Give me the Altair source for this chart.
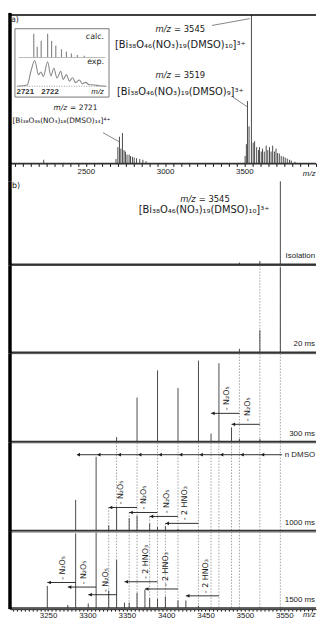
import altair as alt
import pandas as pd

FONT = "DejaVu Sans"
TFONT = "Liberation Sans"
INK = "#1a1a1a"
PEAK = "#4a4a4a"
GRAY = "#8c8c8c"
W = 309

# ---------------- panel a : survey spectrum ----------------
A_MZ = [2234, 2690, 2702, 2712, 2721, 2731, 2741, 2750, 2760, 2773, 2782, 2794, 2805, 2820, 2840, 2860, 2880,
        3505, 3513, 3520, 3530, 3545, 3556, 3565, 3578, 3590, 3596, 3607, 3615, 3626, 3638, 3648, 3659, 3669,
        3679, 3690, 3700, 3710, 3721, 3733, 3746, 3758, 3771, 3785, 3796, 3820]
A_INT = [2.5, 3, 11, 18, 10, 20.5, 9, 8, 6, 6, 5, 4.5, 4, 3.5, 3, 2.5, 1.5,
         5, 13, 42, 25, 100, 14, 15, 11, 9, 11, 8, 10, 8, 12, 9, 11, 8,
         12, 8, 10, 7, 6.7, 5, 4.7, 4, 3.3, 2.5, 2, 1.2]
A_TICKS = list(range(2050, 3951, 50))
A_DOMAIN = [2021.25, 3952.5]
A_YDOMAIN = [-12, 101.33]

A_ION_VAL = ["= 3545", "= 3519", "= 2721"]
A_ION_M = [3037.5, 3037.5, 2382.0]
A_ION_I = [90.7, 59.3, 37.3]
A_ION_SIZE = [8.5, 8.5, 7.5]
A_FORM = ["[Bi₃₈O₄₆(NO₃)₁₉(DMSO)₁₀]³⁺", "[Bi₃₈O₄₆(NO₃)₁₉(DMSO)₉]³⁺", "[Bi₃₈O₄₆(NO₃)₁₈(DMSO)₁₄]⁴⁺"]
A_FORM_M = [3096, 3096, 2036.9]
A_FORM_I = [80, 48, 28.7]
A_FORM_ALIGN = ["center", "center", "left"]
A_FORM_SIZE = [10, 10, 7.5]
A_LEAD_M1 = [3296, 3427.5, 2608.75]
A_LEAD_I1 = [92.9, 44.7, 20.7]
A_LEAD_M2 = [3534, 3521, 2708.75]
A_LEAD_I2 = [97.5, 38, 14.7]

CALC_MZ = [2721.36, 2721.5, 2721.66, 2721.92, 2722.08, 2722.25, 2722.48, 2722.68, 2722.88, 2723.12, 2723.4]
CALC_INT = [100, 45, 70, 100, 70, 50, 35, 25, 17, 11, 7]
EXP_MZ = [2720.7, 2721.1, 2721.25, 2721.4, 2721.55, 2721.65, 2721.75, 2721.92, 2722.05, 2722.17, 2722.3,
          2722.45, 2722.55, 2722.68, 2722.8, 2722.93, 2723.05, 2723.2, 2723.32, 2723.45, 2723.6, 2723.8,
          2724.0, 2724.3]
EXP_INT = [0, 5, 60, 100, 45, 55, 38, 95, 40, 70, 32, 58, 26, 45, 20, 33, 14, 24, 10, 15, 6, 5, 2, 0]
INSET_DOMAIN = [2720.6, 2724.4]

# ---------------- panel b : CID series ----------------
B_DOMAIN = [3201.6, 3590.3]
B_TICKS = list(range(3205, 3590, 5))
B_YDOMAIN = [-1.5, 100]
B_HEIGHTS = [85, 89, 90, 90, 78]

ISO_MZ = [3545, 3519, 3493]
ISO_INT = [100, 4, 2]
MS20_MZ = [3545, 3519, 3493]
MS20_INT = [98, 25.5, 4]
MS300_MZ = [3337, 3363, 3389, 3415, 3441, 3457, 3467, 3483, 3493, 3519]
MS300_INT = [5, 50, 81, 61, 92, 9, 89, 16, 3, 3]
MS1000_MZ = [3285, 3311, 3327, 3337, 3353, 3363, 3379, 3389, 3399, 3415]
MS1000_INT = [35, 84, 6, 26, 14, 17, 8, 4, 5, 2]
MS1500_MZ = [3249, 3275, 3285, 3301, 3311, 3327, 3337, 3347, 3353, 3363, 3373, 3379, 3389, 3399, 3415, 3425, 3441]
MS1500_INT = [29, 4, 98, 6, 99, 23, 63, 7, 7, 20, 24, 13, 12, 15, 10, 10, 3]

GUIDES_20 = [3519, 3545]
GUIDES_300 = [3493, 3519, 3545]
GUIDES_1000 = [3337, 3363, 3389, 3415, 3441, 3457, 3467, 3483, 3493, 3519, 3545]
GUIDES_1500 = [3327, 3353, 3379, 3399] + GUIDES_1000

TIME_LABELS = ["Isolation", "20 ms", "300 ms", "1000 ms", "1500 ms"]
TIME_I = [10, 9.5, 8.2, 8.2, 10.5]

BR_PANEL = ["300 ms", "300 ms", "1000 ms", "1000 ms", "1000 ms", "1000 ms",
            "1500 ms", "1500 ms", "1500 ms", "1500 ms", "1500 ms", "1500 ms"]
BR_FROM = [3493, 3519, 3363, 3389, 3415, 3441, 3285, 3311, 3337, 3389, 3415, 3467]
BR_TO = [3457, 3483, 3327, 3353, 3379, 3399, 3249, 3275, 3301, 3347, 3373, 3425]
BR_I = [32, 19.5, 26.3, 20.6, 16.1, 8.2, 33.5, 27.5, 17.5, 34.5, 25, 16]
BR_TEXT = ["- N₂O₅", "- N₂O₅", "- N₂O₅", "- N₂O₅", "- N₂O₅", "- 2 HNO₃",
           "- N₂O₅", "- N₂O₅", "- N₂O₅", "- 2 HNO₃", "- 2 HNO₃", "- 2 HNO₃"]
BR_TEXT_M = [3477, 3503.5, 3342.5, 3371.4, 3401.6, 3424.2, 3269.5, 3296, 3323.6, 3374, 3400, 3451]
GUIDE_FROM_ARROW = ["1000 ms"]

DMSO_SERIES = [3285, 3311, 3337, 3363, 3389, 3415, 3441, 3467, 3493, 3519]
DMSO_I = 86.4


def xq(field, scale, axis=None):
    return alt.X(field, type="quantitative", scale=scale, axis=axis)


def yq(field, scale):
    return alt.Y(field, type="quantitative", scale=scale, axis=None)


# ---------------- panel a ----------------
xa = alt.Scale(domain=A_DOMAIN, nice=False, zero=False)
ya = alt.Scale(domain=A_YDOMAIN, nice=False, zero=False)
axis_a = alt.Axis(values=A_TICKS, orient="bottom", offset=-18, title=None, grid=False,
                  labelExpr="indexof([2500,3000,3500], datum.value) >= 0 ? format(datum.value, 'd') : ''",
                  labelFont=TFONT, labelFontSize=8, labelColor=INK, labelPadding=1, labelFlush=False,
                  labelOverlap=False, tickSize=3, tickColor=INK, domainColor=INK, domainWidth=1)

dfa = pd.DataFrame({"m": A_MZ, "i": A_INT})
dfa["b"] = 0.0
peaks_a = alt.Chart(dfa).mark_rule(color=PEAK, strokeWidth=1).encode(
    x=xq("m", xa, axis_a), y=yq("i", ya), y2="b:Q")
base_a = alt.Chart(pd.DataFrame({"v": [0.0]})).mark_rule(color="#333333", strokeWidth=1.3).encode(
    y=yq("v", ya))
frame_left_a = alt.Chart(pd.DataFrame({"m": [A_DOMAIN[0]]})).mark_rule(color="black", strokeWidth=3.5).encode(
    x=xq("m", xa, axis_a))
frame_top_a = alt.Chart(pd.DataFrame({"v": [100.0]})).mark_rule(color="black", strokeWidth=1.5).encode(
    y=yq("v", ya))
lab_a = alt.Chart(pd.DataFrame({"m": [2027.5], "i": [96.7], "t": ["a)"]})).mark_text(
    font=FONT, fontSize=8, align="left", baseline="middle", color=INK, clip=True).encode(
    x=xq("m", xa, axis_a), y=yq("i", ya), text="t:N")
ion_layers = []
for k in range(3):
    dfion = pd.DataFrame({"m": [A_ION_M[k]], "i": [A_ION_I[k]], "t": [A_ION_VAL[k]]})
    ion_layers.append(alt.Chart(dfion).mark_text(
        font=FONT, fontSize=A_ION_SIZE[k], fontStyle="italic", align="right", baseline="middle",
        color=INK, text="m/z", clip=True).encode(x=xq("m", xa, axis_a), y=yq("i", ya)))
    ion_layers.append(alt.Chart(dfion).mark_text(
        font=FONT, fontSize=A_ION_SIZE[k], align="left", baseline="middle", color=INK, dx=3,
        clip=True).encode(x=xq("m", xa, axis_a), y=yq("i", ya), text="t:N"))
form_layers = []
for k in range(3):
    form_layers.append(alt.Chart(pd.DataFrame({"m": [A_FORM_M[k]], "i": [A_FORM_I[k]], "t": [A_FORM[k]]})).mark_text(
        font=FONT, fontSize=A_FORM_SIZE[k], align=A_FORM_ALIGN[k], baseline="middle", color=INK,
        clip=True).encode(x=xq("m", xa, axis_a), y=yq("i", ya), text="t:N"))
lead_a = alt.Chart(pd.DataFrame({"m1": A_LEAD_M1, "i1": A_LEAD_I1, "m2": A_LEAD_M2, "i2": A_LEAD_I2})).mark_rule(
    color="#666666", strokeWidth=0.8).encode(
    x=xq("m1", xa, axis_a), y=yq("i1", ya), x2="m2:Q", y2="i2:Q")
box_a = alt.Chart(pd.DataFrame({"m1": [2052.5], "m2": [2646.25], "i1": [44.7], "i2": [90.7]})).mark_rect(
    fill=None, stroke="#777777", strokeWidth=1).encode(
    x=xq("m1", xa, axis_a), x2="m2:Q", y=yq("i1", ya), y2="i2:Q")
mz_end_a = alt.Chart(pd.DataFrame({"m": [3950.0], "i": [-7.3]})).mark_text(
    font=TFONT, fontSize=8, fontStyle="italic", align="right", baseline="middle", color=INK,
    text="m/z", clip=True).encode(x=xq("m", xa, axis_a), y=yq("i", ya))
inset_txt = [
    alt.Chart(pd.DataFrame({"m": [2615, 2615], "i": [85.3, 68], "t": ["calc.", "exp."]})).mark_text(
        font=FONT, fontSize=8, align="right", baseline="middle", color=INK, clip=True).encode(
        x=xq("m", xa, axis_a), y=yq("i", ya), text="t:N"),
    alt.Chart(pd.DataFrame({"m": [2118.1, 2274.4], "i": [48, 48], "t": ["2721", "2722"]})).mark_text(
        font=TFONT, fontSize=8, fontWeight="bold", align="center", baseline="middle", color="#333333",
        clip=True).encode(x=xq("m", xa, axis_a), y=yq("i", ya), text="t:N"),
    alt.Chart(pd.DataFrame({"m": [2615], "i": [48]})).mark_text(
        font=TFONT, fontSize=8, fontStyle="italic", align="right", baseline="middle", color=INK,
        text="m/z", clip=True).encode(x=xq("m", xa, axis_a), y=yq("i", ya)),
    alt.Chart(pd.DataFrame({"m1": [2064.9], "m2": [2627.5], "i": [52.0]})).mark_rule(
        color="#999999", strokeWidth=1, strokeDash=[1, 1.5]).encode(
        x=xq("m1", xa, axis_a), x2="m2:Q", y=yq("i", ya)),
]

main_a = alt.layer(peaks_a, base_a, frame_left_a, frame_top_a, lab_a, *ion_layers, *form_layers, lead_a,
                   box_a, mz_end_a, *inset_txt)

xi = alt.Scale(domain=INSET_DOMAIN, range=[5, 100], nice=False, zero=False)
yc = alt.Scale(domain=[0, 100], range=[45, 21], nice=False, zero=False)
ye = alt.Scale(domain=[0, 100], range=[74, 48], nice=False, zero=False)
dfc = pd.DataFrame({"m": CALC_MZ, "i": CALC_INT})
dfc["b"] = 0.0
calc = alt.layer(
    alt.Chart(dfc).mark_rule(color="#8a8a8a", strokeWidth=1.2).encode(
        x=xq("m", xi), y=yq("i", yc), y2="b:Q"),
    alt.Chart(pd.DataFrame({"m1": [2720.75], "m2": [2724.25], "i": [0.0]})).mark_rule(
        color="#aaaaaa", strokeWidth=0.8).encode(x=xq("m1", xi), x2="m2:Q", y=yq("i", yc)),
)
exp = alt.Chart(pd.DataFrame({"m": EXP_MZ, "i": EXP_INT})).mark_line(
    color="#8a8a8a", strokeWidth=1.1, interpolate="monotone").encode(
    x=xq("m", xi), y=yq("i", ye))
inset = alt.layer(calc, exp).resolve_scale(y="independent")

panel_a = alt.layer(main_a, inset).resolve_scale(x="independent", y="independent").properties(
    width=W, height=170)

# ---------------- panel b ----------------
xb = alt.Scale(domain=B_DOMAIN, nice=False, zero=False)
axis_b = alt.Axis(values=B_TICKS, orient="bottom", title=None, grid=False,
                  labelExpr="indexof([3250,3300,3350,3400,3450,3500,3550], datum.value) >= 0 ? format(datum.value, 'd') : ''",
                  labelFont=TFONT, labelFontSize=8, labelColor=INK, labelPadding=0, labelFlush=False,
                  labelOverlap=False, tickSize=2, tickColor=INK, domainColor=INK, domainWidth=1)


def b_panel(idx, mz, inten, guides, extra=None, with_axis=False):
    ax = axis_b if with_axis else None
    yb = alt.Scale(domain=B_YDOMAIN, nice=False, zero=False)
    layers = []
    if guides:
        layers.append(alt.Chart(pd.DataFrame({"m": guides})).mark_rule(
            color=GRAY, strokeWidth=0.8, strokeDash=[1.5, 1.5]).encode(x=xq("m", xb, ax)))
    name = TIME_LABELS[idx]
    sel = [k for k in range(len(BR_PANEL)) if BR_PANEL[k] == name]
    if sel and name in GUIDE_FROM_ARROW:
        dg = pd.DataFrame({"m": [BR_TO[k] for k in sel], "i": [BR_I[k] for k in sel]})
        dg["b"] = B_YDOMAIN[0]
        layers.append(alt.Chart(dg).mark_rule(color=GRAY, strokeWidth=0.8, strokeDash=[1.5, 1.5]).encode(
            x=xq("m", xb, ax), y=yq("i", yb), y2="b:Q"))
    dfp = pd.DataFrame({"m": mz, "i": inten})
    dfp["b"] = 0.0
    layers.append(alt.Chart(dfp).mark_rule(color=PEAK, strokeWidth=1).encode(
        x=xq("m", xb, ax), y=yq("i", yb), y2="b:Q"))
    layers.append(alt.Chart(pd.DataFrame({"v": [0.0]})).mark_rule(color="#333333", strokeWidth=1.5).encode(
        y=yq("v", yb)))
    layers.append(alt.Chart(pd.DataFrame({"v": [B_YDOMAIN[0]]})).mark_rule(color="#444444", strokeWidth=1).encode(
        y=yq("v", yb)))
    layers.append(alt.Chart(pd.DataFrame({"m": [B_DOMAIN[0]]})).mark_rule(color="black", strokeWidth=3.5).encode(
        x=xq("m", xb, ax)))
    layers.append(alt.Chart(pd.DataFrame({"m": [B_DOMAIN[1] - 1.2], "i": [TIME_I[idx]], "t": [TIME_LABELS[idx]]})).mark_text(
        font=TFONT, fontSize=8, align="right", baseline="middle", color=INK, clip=True).encode(
        x=xq("m", xb, ax), y=yq("i", yb), text="t:N"))
    if sel:
        dfb = pd.DataFrame({"f": [BR_FROM[k] for k in sel], "t": [BR_TO[k] for k in sel],
                            "i": [BR_I[k] for k in sel], "txt": [BR_TEXT[k] for k in sel],
                            "tm": [BR_TEXT_M[k] for k in sel]})
        dfb["ti"] = dfb["i"] + 3.5
        dfb["head"] = dfb["t"] + 2.5
        layers.append(alt.Chart(dfb).mark_rule(color=INK, strokeWidth=0.9).encode(
            x=xq("t", xb, ax), x2="f:Q", y=yq("i", yb)))
        layers.append(alt.Chart(dfb).mark_point(shape="triangle-left", filled=True, size=14, color=INK,
                                                opacity=1).encode(
            x=xq("head", xb, ax), y=yq("i", yb)))
        layers.append(alt.Chart(dfb).mark_text(font=FONT, fontSize=8, angle=270, align="left",
                                               baseline="middle", color=INK, clip=True).encode(
            x=xq("tm", xb, ax), y=yq("ti", yb), text="txt:N"))
    if extra is not None:
        layers.extend(extra(ax, yb))
    return alt.layer(*layers).properties(width=W, height=B_HEIGHTS[idx])


def iso_extra(ax, yb):
    ion = pd.DataFrame({"m": [3437.5], "i": [78.4]})
    return [
        alt.Chart(pd.DataFrame({"m": [3204.1], "i": [94.0], "t": ["b)"]})).mark_text(
            font=FONT, fontSize=8, align="left", baseline="middle", color=INK, clip=True).encode(
            x=xq("m", xb, ax), y=yq("i", yb), text="t:N"),
        alt.Chart(ion).mark_text(font=FONT, fontSize=8.5, fontStyle="italic", align="right",
                                 baseline="middle", color=INK, text="m/z", clip=True).encode(
            x=xq("m", xb, ax), y=yq("i", yb)),
        alt.Chart(ion).mark_text(font=FONT, fontSize=8.5, align="left", baseline="middle", color=INK,
                                 dx=3, text="= 3545", clip=True).encode(
            x=xq("m", xb, ax), y=yq("i", yb)),
        alt.Chart(pd.DataFrame({"m": [3448.1], "i": [65.2], "t": [A_FORM[0]]})).mark_text(
            font=FONT, fontSize=10, align="center", baseline="middle", color=INK, clip=True).encode(
            x=xq("m", xb, ax), y=yq("i", yb), text="t:N"),
    ]


def ms1000_extra(ax, yb):
    dd = pd.DataFrame({"m": DMSO_SERIES})
    dd["head"] = dd["m"] + 3.5
    dd["i"] = DMSO_I
    return [
        alt.Chart(pd.DataFrame({"m1": [3287.0], "m2": [3547.0], "i": [DMSO_I]})).mark_rule(
            color=INK, strokeWidth=0.9).encode(x=xq("m1", xb, ax), x2="m2:Q", y=yq("i", yb)),
        alt.Chart(dd).mark_point(shape="triangle-left", filled=True, size=14, color=INK, opacity=1).encode(
            x=xq("head", xb, ax), y=yq("i", yb)),
        alt.Chart(pd.DataFrame({"m": [B_DOMAIN[1] - 1.2], "i": [DMSO_I], "t": ["n DMSO"]})).mark_text(
            font=TFONT, fontSize=8, align="right", baseline="middle", color=INK, clip=True).encode(
            x=xq("m", xb, ax), y=yq("i", yb), text="t:N"),
    ]


def ms1500_extra(ax, yb):
    return [
        alt.Chart(pd.DataFrame({"m": [3590.0], "i": [-9.4]})).mark_text(
            font=TFONT, fontSize=8, fontStyle="italic", align="right", baseline="middle", color=INK,
            text="m/z").encode(x=xq("m", xb, ax), y=yq("i", yb)),
    ]


iso = b_panel(0, ISO_MZ, ISO_INT, [], iso_extra)
ms20 = b_panel(1, MS20_MZ, MS20_INT, GUIDES_20)
ms300 = b_panel(2, MS300_MZ, MS300_INT, GUIDES_300)
ms1000 = b_panel(3, MS1000_MZ, MS1000_INT, GUIDES_1000, ms1000_extra)
ms1500 = b_panel(4, MS1500_MZ, MS1500_INT, GUIDES_1500, ms1500_extra, with_axis=True)

chart = alt.vconcat(panel_a, iso, ms20, ms300, ms1000, ms1500, spacing=0, bounds="flush").resolve_scale(
    x="independent", y="independent").properties(padding=0, background="white").configure_view(stroke=None)

chart.save("out.html", embed_options={"renderer": "svg", "actions": False})
